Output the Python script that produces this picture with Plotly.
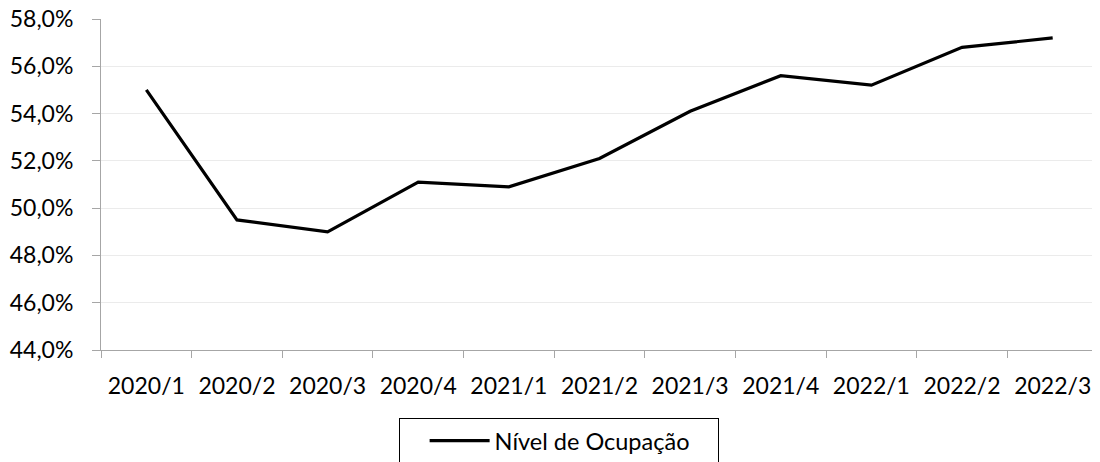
import plotly.graph_objects as go

trimestres = ["2020/1", "2020/2", "2020/3", "2020/4", "2021/1", "2021/2",
              "2021/3", "2021/4", "2022/1", "2022/2", "2022/3"]
ocupacao = [55.0, 49.5, 49.0, 51.1, 50.9, 52.1, 54.1, 55.6, 55.2, 56.8, 57.2]

FONT = "Lato, Open Sans, sans-serif"

trace = go.Scatter(x=trimestres, y=ocupacao, mode="lines",
                   name="Nível de Ocupação",
                   line=dict(color="black", width=3.2))

# the page body adds an 8px offset, so margins are shifted to compensate
layout = go.Layout(
    width=1100, height=480,
    margin=dict(l=93, r=10, t=11, b=138),
    plot_bgcolor="white", paper_bgcolor="white",
    separators=",.",
    font=dict(family=FONT, size=23, color="black"),
    xaxis=dict(type="category", tickson="boundaries", ticks="outside",
               range=[-0.5, len(trimestres) - 0.5],
               ticklen=7, tickcolor="#a6a6a6", showline=True,
               linecolor="#a6a6a6", linewidth=1, showgrid=False,
               ticklabelstandoff=15, automargin=False),
    yaxis=dict(range=[44, 58], dtick=2, tickformat=".1f", ticksuffix="%",
               ticks="outside", ticklen=8, tickcolor="#a6a6a6",
               showline=True, linecolor="#a6a6a6", linewidth=1,
               gridcolor="#ebebeb", zeroline=False, automargin=False,
               ticklabelstandoff=14, ticklabeloverflow="allow"),
    showlegend=True,
    legend=dict(orientation="h", x=0.459, xanchor="center",
                y=-0.205, yanchor="top",
                bordercolor="black", borderwidth=1, font=dict(size=23.5),
                entrywidth=218, itemwidth=60, indentation=25),
)

fig = go.Figure(data=[trace], layout=layout)
fig.write_html("out.html")
